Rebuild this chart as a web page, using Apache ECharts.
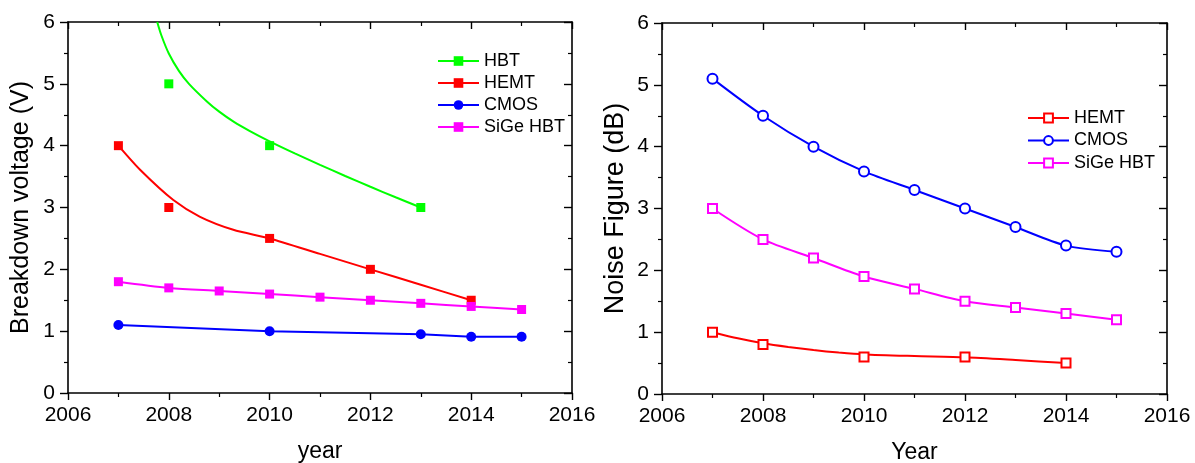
<!DOCTYPE html>
<html>
<head>
<meta charset="utf-8">
<script src="https://cdn.jsdelivr.net/npm/echarts@6/dist/echarts.min.js"></script>
<style>html,body{margin:0;padding:0;background:#fff}#c{width:1195px;height:463px}</style>
</head>
<body>
<div id="c"></div>
<script>
// ---------- data ----------
const years = [2007, 2008, 2009, 2010, 2011, 2012, 2013, 2014, 2015];
const xTicks = [2006, 2008, 2010, 2012, 2014, 2016];

// Left panel: breakdown voltage (V)
const hbtYears = [2008, 2010, 2013];
const hbtV = [5, 4, 3];
const hbtFitYears = [2007.77, 2007.85, 2008, 2008.2, 2008.4, 2008.75, 2009, 2009.3, 2009.6, 2010, 2010.5, 2011, 2011.5, 2012, 2012.5, 2013];
const hbtFitV = [6.0, 5.79, 5.49, 5.21, 5.0, 4.72, 4.55, 4.38, 4.24, 4.07, 3.875, 3.69, 3.51, 3.335, 3.165, 3.0];
const hemtYears = [2007, 2008, 2010, 2012, 2014];
const hemtV = [4, 3, 2.5, 2, 1.5];
const hemtFitYears = [2007, 2007.43, 2008.09, 2008.62, 2009.28, 2010, 2011, 2012, 2013, 2014];
const hemtFitV = [4.0, 3.61, 3.12, 2.85, 2.64, 2.5, 2.25, 2.0, 1.75, 1.5];
const cmosYears = [2007, 2010, 2013, 2014, 2015];
const cmosV = [1.1, 1.0, 0.95, 0.91, 0.91];
const sigeV = [1.8, 1.7, 1.65, 1.6, 1.55, 1.5, 1.45, 1.4, 1.35];

// Right panel: noise figure (dB)
const nfCmos = [5.1, 4.5, 4.0, 3.6, 3.3, 3.0, 2.7, 2.4, 2.3];
const nfSige = [3.0, 2.5, 2.2, 1.9, 1.7, 1.5, 1.4, 1.3, 1.2];
const nfHemtYears = [2007, 2008, 2010, 2012, 2014];
const nfHemt = [1.0, 0.8, 0.6, 0.6, 0.5];
const nfHemtFitYears = [2007, 2007.5, 2008, 2008.5, 2009, 2009.5, 2010, 2011, 2012, 2013, 2014];
const nfHemtFit = [1.0, 0.9, 0.82, 0.76, 0.71, 0.67, 0.64, 0.615, 0.595, 0.55, 0.5];

// ---------- helpers ----------
const zip = (xs, ys) => xs.map((x, i) => [x, ys[i]]);
const FONT = 'Arial, "Liberation Sans", sans-serif';
const GREEN = '#00ff00', RED = '#ff0000', BLUE = '#0000ff', MAG = '#ff00ff';

function xAx(grid, pos, name, gap) {
  const main = pos === 'bottom';
  return {
    type: 'value', gridIndex: grid, position: pos, min: 2006, max: 2016, interval: 2,
    name: main ? name : '', nameLocation: 'middle', nameGap: gap || 0,
    nameTextStyle: { fontFamily: FONT, fontSize: 23, color: '#000' },
    axisLine: { show: true, onZero: false, lineStyle: { color: '#000', width: 1.6 } },
    axisTick: { show: true, inside: !main, length: 7, lineStyle: { color: '#000', width: 1.4 } },
    minorTick: { show: true, splitNumber: 2, length: 4, lineStyle: { color: '#000', width: 1.2 } },
    axisLabel: { show: main, margin: 12, fontFamily: FONT, fontSize: 21, color: '#000',
      formatter: v => (xTicks.indexOf(v) >= 0 ? String(v) : '') },
    splitLine: { show: false }
  };
}
function yAx(grid, pos, name, gap, fs) {
  const main = pos === 'left';
  return {
    type: 'value', gridIndex: grid, position: pos, min: 0, max: 6, interval: 1,
    name: main ? name : '', nameLocation: 'middle', nameGap: gap || 0,
    nameTextStyle: { fontFamily: FONT, fontSize: fs || 24, color: '#000' },
    axisLine: { show: true, onZero: false, lineStyle: { color: '#000', width: 1.6 } },
    axisTick: { show: true, inside: !main, length: 8, lineStyle: { color: '#000', width: 1.4 } },
    minorTick: { show: true, splitNumber: 2, length: 4, lineStyle: { color: '#000', width: 1.2 } },
    axisLabel: { show: main, margin: 13, fontFamily: FONT, fontSize: 21, color: '#000' },
    splitLine: { show: false }
  };
}
function curve(name, xi, yi, xs, ys, color, sym, smooth) {
  return {
    name, type: 'line', xAxisIndex: xi, yAxisIndex: yi, data: zip(xs, ys),
    smooth: smooth, showSymbol: false, symbol: sym, z: 2,
    lineStyle: { color, width: 2 }, itemStyle: { color },
    emphasis: { disabled: true }, silent: true
  };
}
function marks(name, xi, yi, xs, ys, color, sym, size, bw) {
  return {
    name, type: 'scatter', xAxisIndex: xi, yAxisIndex: yi, data: zip(xs, ys),
    symbol: sym, symbolSize: size, z: 3,
    itemStyle: { color, borderColor: color, borderWidth: bw || 0, opacity: 1 },
    emphasis: { disabled: true }, silent: true
  };
}
function lineMarked(name, xi, yi, xs, ys, color, sym, size, smooth, bw) {
  return {
    name, type: 'line', xAxisIndex: xi, yAxisIndex: yi, data: zip(xs, ys),
    smooth: smooth, showSymbol: true, symbol: sym, symbolSize: size, z: 3,
    lineStyle: { color, width: 2 }, itemStyle: { color, borderWidth: bw || 0 },
    emphasis: { disabled: true }, silent: true
  };
}

const chart = echarts.init(document.getElementById('c'), null, { renderer: 'canvas' });
chart.setOption({
  animation: false,
  backgroundColor: '#fff',
  grid: [
    { left: 68, top: 22, width: 504, height: 371, containLabel: false, outerBoundsMode: 'none' },
    { left: 662, top: 23, width: 505, height: 371, containLabel: false, outerBoundsMode: 'none' }
  ],
  xAxis: [xAx(0, 'bottom', 'year', 47), xAx(0, 'top'), xAx(1, 'bottom', 'Year', 47), xAx(1, 'top')],
  yAxis: [yAx(0, 'left', 'Breakdown voltage (V)', 34, 25), yAx(0, 'right'),
          yAx(1, 'left', 'Noise Figure (dB)', 33, 27), yAx(1, 'right')],
  legend: [
    {
      orient: 'vertical', left: 432, top: 47, itemWidth: 41, itemHeight: 12, itemGap: 4,
      selectedMode: false,
      textStyle: { fontFamily: FONT, fontSize: 18, color: '#000', lineHeight: 18 },
      data: ['HBT', 'HEMT', 'CMOS', 'SiGe HBT']
    },
    {
      orient: 'vertical', left: 1022, top: 104, itemWidth: 41, itemHeight: 11, itemGap: 4.5,
      selectedMode: false,
      textStyle: { fontFamily: FONT, fontSize: 18, color: '#000', lineHeight: 18 },
      formatter: n => n.replace(' NF', ''),
      data: ['HEMT NF', 'CMOS NF', 'SiGe HBT NF']
    }
  ],
  series: [
    curve('HBT', 0, 0, hbtFitYears, hbtFitV, GREEN, 'rect', 0.25),
    marks('HBT pts', 0, 0, hbtYears, hbtV, GREEN, 'rect', 9),
    curve('HEMT', 0, 0, hemtFitYears, hemtFitV, RED, 'rect', 0.25),
    marks('HEMT pts', 0, 0, hemtYears, hemtV, RED, 'rect', 9),
    lineMarked('CMOS', 0, 0, cmosYears, cmosV, BLUE, 'circle', 10, false),
    lineMarked('SiGe HBT', 0, 0, years, sigeV, MAG, 'rect', 9, 0.3),

    curve('HEMT NF', 2, 2, nfHemtFitYears, nfHemtFit, RED, 'emptyRect', 0.25),
    marks('HEMT NF pts', 2, 2, nfHemtYears, nfHemt, RED, 'emptyRect', 9, 1.2),
    lineMarked('CMOS NF', 2, 2, years, nfCmos, BLUE, 'emptyCircle', 10, 0.3, 1.2),
    lineMarked('SiGe HBT NF', 2, 2, years, nfSige, MAG, 'emptyRect', 9, 0.3, 1.2)
  ]
});
</script>
</body>
</html>
